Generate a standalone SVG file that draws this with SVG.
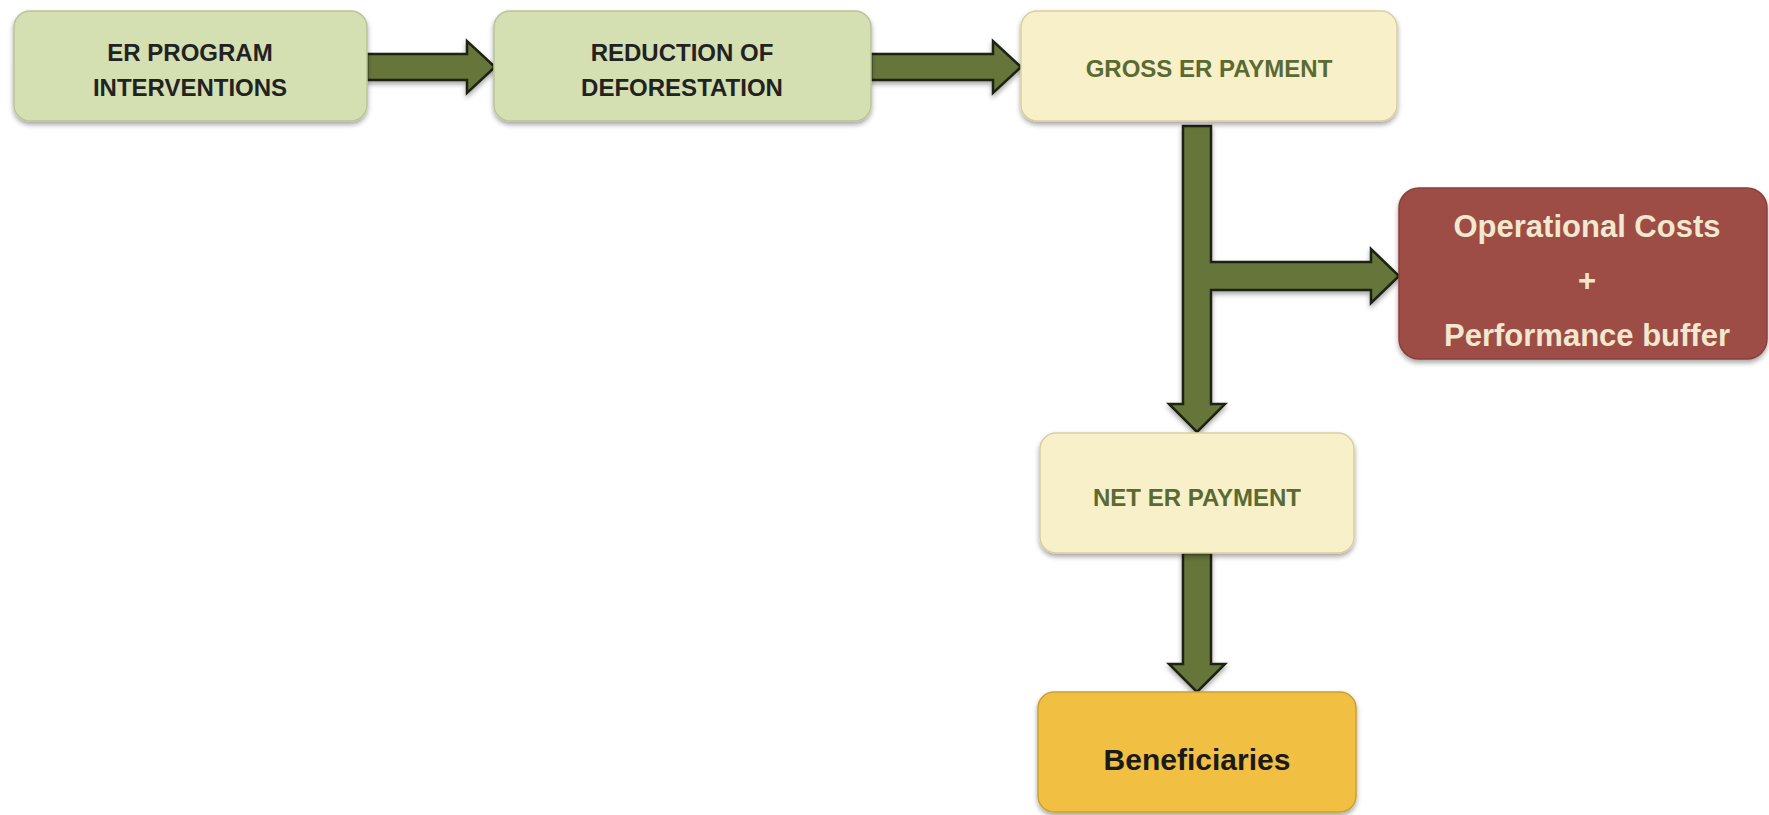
<svg xmlns="http://www.w3.org/2000/svg" width="1769" height="815" viewBox="0 0 1769 815">
<defs>
<filter id="sh" x="-10%" y="-10%" width="120%" height="130%">
<feDropShadow dx="0" dy="3" stdDeviation="2.5" flood-color="#000" flood-opacity="0.35"/>
</filter>
<style>
.box{stroke-width:1.5;filter:url(#sh)}
.g{fill:#d4dfb2;stroke:#b9c596}
.y{fill:#f8f0c9;stroke:#d8cfa0}
.r{fill:#9d4e45;stroke:#8a4038}
.o{fill:#f1c042;stroke:#c9a030}
.arr{fill:#66763a;stroke:#1e2412;stroke-width:2.5;stroke-linejoin:miter;filter:url(#sh)}
text{font-family:"Liberation Sans",Arial,sans-serif;font-weight:bold;text-anchor:middle;dominant-baseline:central}
.dk{fill:#222;font-size:24px}
.gr{fill:#5a6a33;font-size:24px}
.cr{fill:#f1e8cf;font-size:31px}
.bk{fill:#1a1a1a;font-size:30px}
</style>
</defs>
<g id="connectors">
<path class="arr" d="M367,54 L467,54 L467,41 L495,67 L467,93 L467,80 L367,80 Z"/>
<path class="arr" d="M871,54 L993,54 L993,41 L1021,67 L993,93 L993,80 L871,80 Z"/>
<path class="arr" d="M1183,126 L1211,126 L1211,262 L1371,262 L1371,249 L1399,276 L1371,303 L1371,290 L1211,290 L1211,404 L1225,404 L1197,432 L1169,404 L1183,404 Z"/>
<path class="arr" d="M1183,553 L1211,553 L1211,664 L1225,664 L1197,692 L1169,664 L1183,664 Z"/>
</g>
<g id="node-er-program">
<rect class="box g" x="14" y="11" width="353" height="110" rx="16"/>
<text class="dk" x="190" y="52">ER PROGRAM</text>
<text class="dk" x="190" y="87">INTERVENTIONS</text>
</g>
<g id="node-reduction">
<rect class="box g" x="494" y="11" width="377" height="110" rx="16"/>
<text class="dk" x="682" y="52">REDUCTION OF</text>
<text class="dk" x="682" y="87">DEFORESTATION</text>
</g>
<g id="node-gross">
<rect class="box y" x="1021" y="11" width="376" height="110" rx="16"/>
<text class="gr" x="1209" y="68">GROSS ER PAYMENT</text>
</g>
<g id="node-costs">
<rect class="box r" x="1399" y="188" width="368" height="171" rx="20"/>
<text class="cr" x="1587" y="226">Operational Costs</text>
<text class="cr" x="1587" y="280">+</text>
<text class="cr" x="1587" y="335">Performance buffer</text>
</g>
<g id="node-net">
<rect class="box y" x="1040" y="433" width="314" height="120" rx="16"/>
<text class="gr" x="1197" y="497">NET ER PAYMENT</text>
</g>
<g id="node-beneficiaries">
<rect class="box o" x="1038" y="692" width="318" height="120" rx="16"/>
<text class="bk" x="1197" y="759">Beneficiaries</text>
</g>
</svg>
